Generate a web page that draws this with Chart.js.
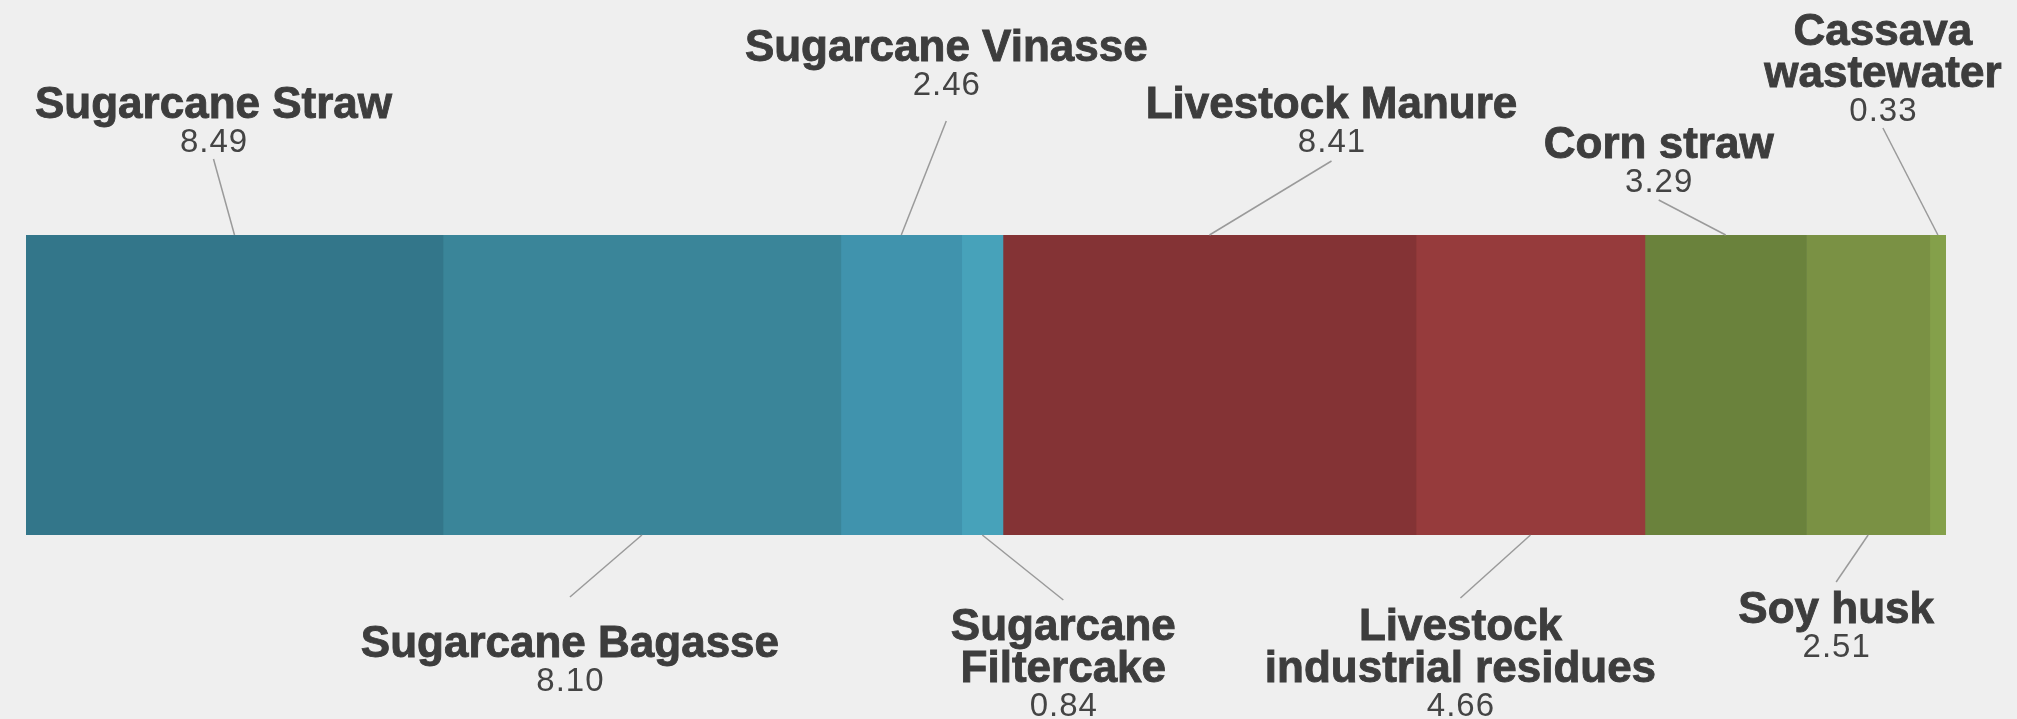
<!DOCTYPE html>
<html>
<head>
<meta charset="utf-8">
<script src="https://cdn.jsdelivr.net/npm/chart.js@4.4.0/dist/chart.umd.min.js"></script>
<style>
  html, body { margin: 0; padding: 0; background: #efefef; }
  #wrap { width: 2017px; height: 719px; position: relative; }
</style>
</head>
<body>
<div id="wrap"><canvas id="chart"></canvas></div>
<script>
// Data
const categories = [
  ["Sugarcane Straw"],
  ["Sugarcane Bagasse"],
  ["Sugarcane Vinasse"],
  ["Sugarcane", "Filtercake"],
  ["Livestock Manure"],
  ["Livestock", "industrial residues"],
  ["Corn straw"],
  ["Soy husk"],
  ["Cassava", "wastewater"]
];
const values = [8.49, 8.10, 2.46, 0.84, 8.41, 4.66, 3.29, 2.51, 0.33];
const colors = ["#33768a", "#3a8599", "#4093ad", "#47a2ba", "#843335", "#963b3c", "#6a823c", "#7a9144", "#84a04a"];

// Label placement: offset from segment middle, first baseline, end of leader line
const placement = [
  { dx: -21, y: 118, lineY: 159 },
  { dx: -72, y: 657, lineY: 597 },
  { dx: 45, y: 61, lineY: 121 },
  { dx: 81, y: 640, lineY: 600 },
  { dx: 122, y: 118, lineY: 161 },
  { dx: -70, y: 640, lineY: 598 },
  { dx: -67, y: 158, lineY: 200 },
  { dx: -32, y: 623, lineY: 582 },
  { dx: -55, y: 45, lineY: 128 }
];

const total = values.reduce((s, v) => s + v, 0);

const calloutPlugin = {
  id: "callouts",
  afterDatasetsDraw(chart) {
    const ctx = chart.ctx;
    ctx.save();
    values.forEach((v, i) => {
      const bar = chart.getDatasetMeta(i).data[0];
      const mid = (bar.x + bar.base) / 2;
      const p = placement[i];
      const tx = mid + p.dx;
      const above = p.y < bar.y;
      const edge = above ? bar.y - bar.height / 2 : bar.y + bar.height / 2;

      // leader line
      ctx.strokeStyle = "#9a9a9a";
      ctx.lineWidth = 1.5;
      ctx.beginPath();
      ctx.moveTo(mid, edge);
      ctx.lineTo(tx, p.lineY);
      ctx.stroke();

      // name
      ctx.textAlign = "center";
      ctx.textBaseline = "alphabetic";
      ctx.fillStyle = "#3d3d3d";
      ctx.strokeStyle = "#3d3d3d";
      ctx.lineWidth = 0.9;
      ctx.font = "bold 44px 'Liberation Sans', Arial, sans-serif";
      if ("letterSpacing" in ctx) ctx.letterSpacing = "0px";
      const lines = categories[i];
      lines.forEach((ln, k) => {
        ctx.fillText(ln, tx, p.y + k * 42);
        ctx.strokeText(ln, tx, p.y + k * 42);
      });

      // value
      ctx.fillStyle = "#444444";
      ctx.font = "33px 'Liberation Sans', Arial, sans-serif";
      if ("letterSpacing" in ctx) ctx.letterSpacing = "1px";
      ctx.fillText(v.toFixed(2), tx + 0.5, p.y + (lines.length - 1) * 42 + 34);
    });
    ctx.restore();
  }
};

new Chart(document.getElementById("chart"), {
  type: "bar",
  data: {
    labels: [""],
    datasets: values.map((v, i) => ({
      label: categories[i].join(" "),
      data: [v],
      backgroundColor: colors[i],
      borderWidth: 0,
      barPercentage: 1,
      categoryPercentage: 1,
      stack: "all"
    }))
  },
  options: {
    indexAxis: "y",
    responsive: true,
    maintainAspectRatio: false,
    animation: false,
    layout: { padding: { left: 26, right: 71, top: 235, bottom: 184 } },
    scales: {
      x: { stacked: true, min: 0, max: total, display: false },
      y: { stacked: true, display: false }
    },
    plugins: { legend: { display: false }, tooltip: { enabled: false } }
  },
  plugins: [calloutPlugin]
});
</script>
</body>
</html>
